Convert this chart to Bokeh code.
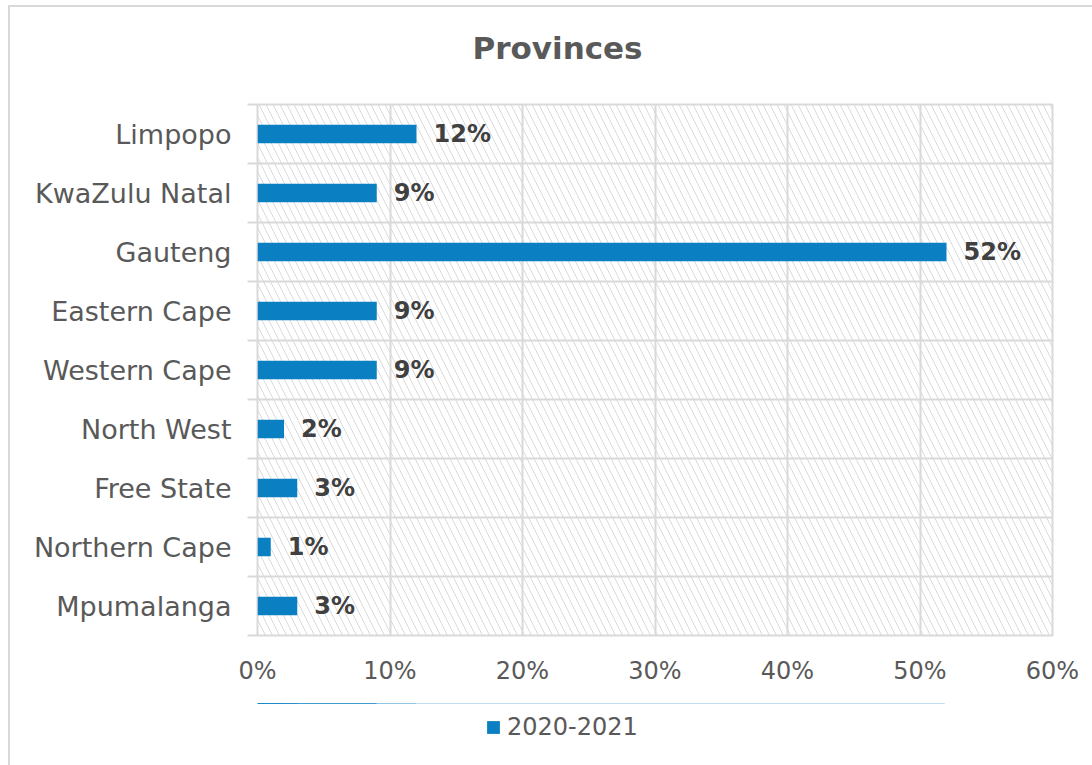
from bokeh.plotting import figure
from bokeh.layouts import column
from bokeh.models import (Range1d, FixedTicker, BoxAnnotation, Legend, LegendItem,
                          ColumnDataSource, LabelSet, Title)
from bokeh.core.properties import value
from bokeh.embed import file_html
from bokeh.resources import INLINE

# ---- data ----
provinces = ["Limpopo", "KwaZulu Natal", "Gauteng", "Eastern Cape", "Western Cape",
             "North West", "Free State", "Northern Cape", "Mpumalanga"]
shares = [12, 9, 52, 9, 9, 2, 3, 1, 3]
x_ticks = [0, 10, 20, 30, 40, 50, 60]
x_tick_labels = ["0%", "10%", "20%", "30%", "40%", "50%", "60%"]
series_name = "2020-2021"
chart_title = "Provinces"

FONT = "DejaVu Sans"
GREY_TXT = "#595959"
GRID = "#d9d9d9"
BLUE = "#0a7fc1"

n = len(provinces)
ypos = [n - i - 0.5 for i in range(n)]
src = ColumnDataSource(dict(y=ypos, share=shares, name=provinces,
                            label=[f"{s}%" for s in shares]))

p = figure(width=1082, height=696, output_backend="svg", toolbar_location=None,
           x_range=Range1d(0, 60), y_range=Range1d(0, n),
           frame_width=793, frame_height=529,
           min_border_left=247, min_border_right=42, min_border_top=97,
           min_border_bottom=70)
p.styles = {"margin-left": "8px", "margin-top": "5px",
            "border-left": f"2px solid {GRID}", "border-top": f"2px solid {GRID}"}

# title: a thin spacer next to the frame, then the real title above it
p.title = None
p.add_layout(Title(text=" ", text_font_size="1px", standoff=36), "above")
p.add_layout(Title(text=chart_title, align="left", offset=215, text_font=FONT,
                   text_font_size="31px", text_font_style="bold", text_color=GREY_TXT,
                   standoff=0), "above")

# hatched plot area
p.add_layout(BoxAnnotation(fill_color=None, line_color=None, hatch_pattern="left_diagonal_line",
                           hatch_color="#dadada", hatch_scale=14, hatch_weight=1, level="underlay"))

bars = p.hbar(y="y", right="share", left=0, height=0.31, source=src,
              fill_color=BLUE, line_color=None)

p.add_layout(LabelSet(x="share", y="y", text="label", source=src, x_offset=17,
                      text_baseline="middle", text_font=value(FONT), text_font_size="24px",
                      text_font_style="bold", text_color="#404040"))

# axes
p.xaxis.ticker = FixedTicker(ticks=x_ticks)
p.xaxis.major_label_overrides = {t: l for t, l in zip(x_ticks, x_tick_labels)}
p.xaxis.major_label_text_font = FONT
p.xaxis.major_label_text_font_size = "24px"
p.xaxis.major_label_text_color = GREY_TXT
p.xaxis.major_tick_line_color = None
p.xaxis.minor_tick_line_color = None
p.xaxis.axis_line_color = None
p.xaxis.major_label_standoff = 15

p.yaxis.ticker = FixedTicker(ticks=ypos, minor_ticks=list(range(n + 1)))
p.yaxis.major_label_overrides = {y: name for y, name in zip(ypos, provinces)}
p.yaxis.major_label_text_font = FONT
p.yaxis.major_label_text_font_size = "27px"
p.yaxis.major_label_text_color = GREY_TXT
p.yaxis.major_tick_line_color = None
p.yaxis.minor_tick_line_color = GRID
p.yaxis.minor_tick_out = 10
p.yaxis.minor_tick_in = 0
p.yaxis.minor_tick_line_width = 2
p.yaxis.axis_line_color = None
p.yaxis.major_label_standoff = 16

p.xgrid.ticker = FixedTicker(ticks=x_ticks)
p.ygrid.ticker = FixedTicker(ticks=list(range(n + 1)))
p.xgrid.grid_line_color = GRID
p.ygrid.grid_line_color = GRID
p.xgrid.grid_line_width = 2
p.ygrid.grid_line_width = 2
p.outline_line_color = GRID
p.outline_line_width = 2

# legend strip below the chart: same series, drawn out of view, only its legend shows
lg = figure(width=1082, height=62, output_backend="svg", toolbar_location=None,
            x_range=Range1d(0, 60), y_range=Range1d(-20, -10),
            x_axis_location=None, y_axis_location=None,
            min_border_left=0, min_border_right=0, min_border_top=0, min_border_bottom=0)
lg.title = None
lg.grid.visible = False
lg.outline_line_color = None
lg.styles = {"margin-left": "8px", "border-left": f"2px solid {GRID}"}
proxy = lg.hbar(y="y", right="share", left=0, height=0.31, source=src,
                fill_color=BLUE, line_color=None)

legend = Legend(items=[LegendItem(label=series_name, renderers=[proxy], index=0)],
                orientation="horizontal", location=(228, 24),
                label_text_font=FONT, label_text_font_size="24px",
                label_text_color=GREY_TXT, glyph_width=16, glyph_height=16,
                label_standoff=6, border_line_color=None, background_fill_color=None,
                margin=0, padding=0)
lg.add_layout(legend, "center")

layout = column(p, lg, spacing=0)
open("out.html", "w").write(file_html(layout, INLINE))
